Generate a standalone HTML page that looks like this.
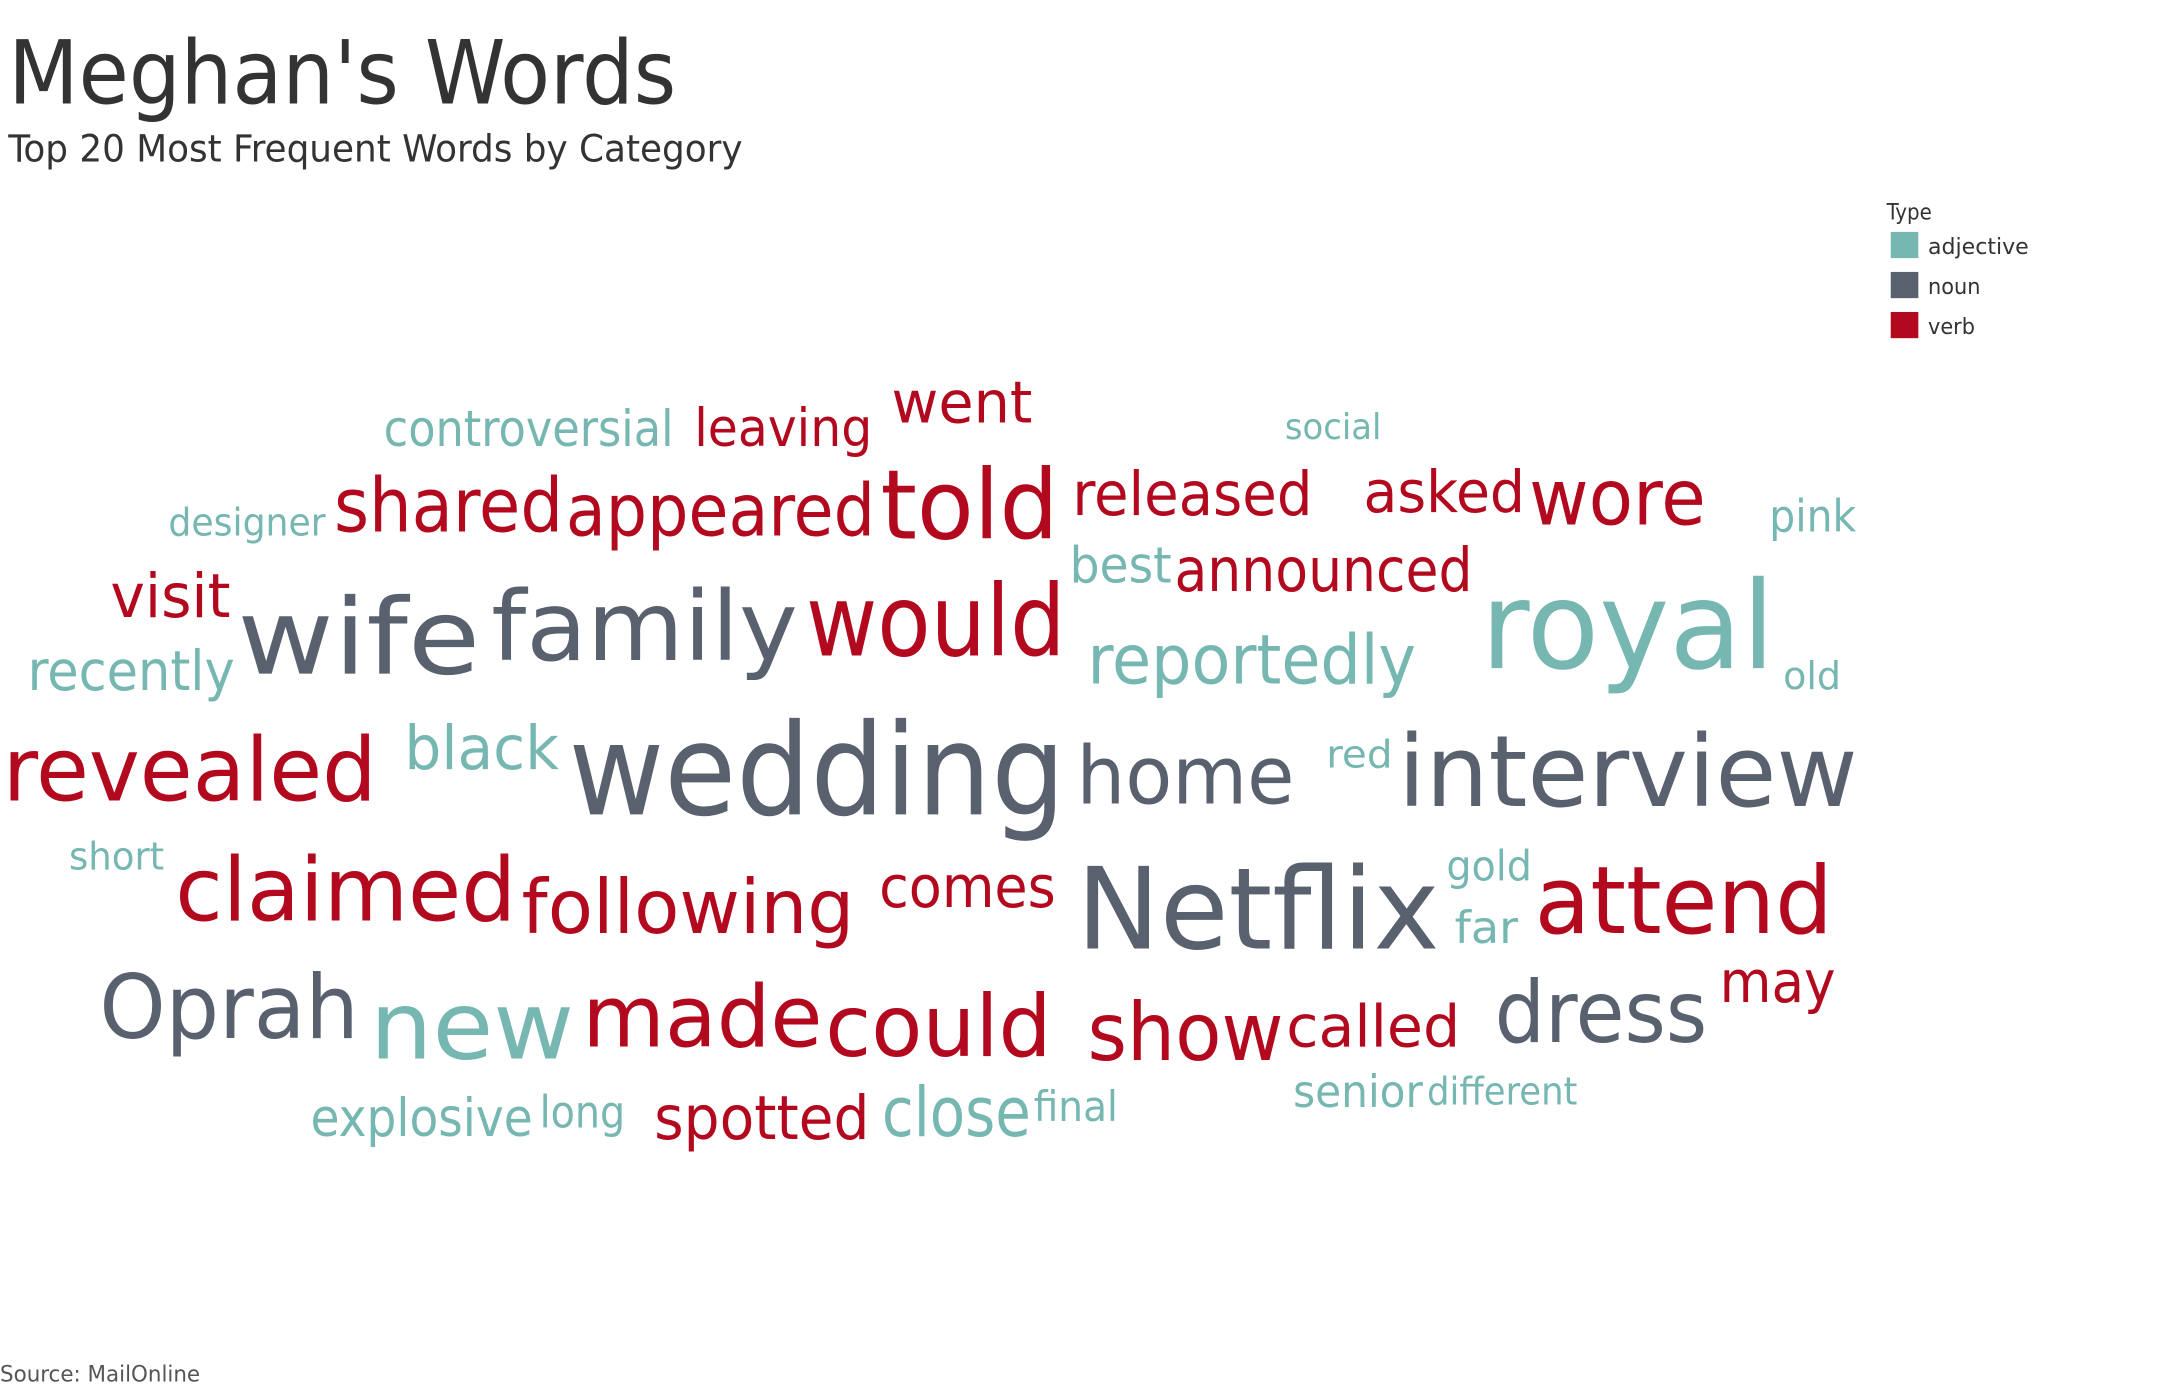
<!DOCTYPE html>
<html><head><meta charset="utf-8"><style>
html,body{margin:0;padding:0;background:#fff;}
svg{display:block;font-family:"DejaVu Sans Condensed","Liberation Sans",sans-serif;}
</style></head><body>
<svg id="chart" width="2164" height="1390" viewBox="0 0 1568 1007" preserveAspectRatio="none" xmlns="http://www.w3.org/2000/svg">
<text x="6" y="75" font-size="64" fill="#333" textLength="484" lengthAdjust="spacingAndGlyphs">Meghan's Words</text>
<text x="6" y="117" font-size="27" fill="#333" textLength="532" lengthAdjust="spacingAndGlyphs">Top 20 Most Frequent Words by Category</text>
<g>
<text x="1367" y="159" font-size="16" fill="#333">Type</text>
<rect x="1370" y="168" width="20" height="19" fill="#76b7b2"/>
<text x="1397" y="184" font-size="16" fill="#333" textLength="73" lengthAdjust="spacingAndGlyphs">adjective</text>
<rect x="1370" y="197" width="20" height="19" fill="#59606e"/>
<text x="1397" y="213" font-size="16" fill="#333" textLength="38" lengthAdjust="spacingAndGlyphs">noun</text>
<rect x="1370" y="226" width="20" height="19" fill="#b3091f"/>
<text x="1397" y="242" font-size="16" fill="#333" textLength="34" lengthAdjust="spacingAndGlyphs">verb</text>
</g>
<g id="words"></g>
<text x="0" y="1001" font-size="16" fill="#555" textLength="145" lengthAdjust="spacingAndGlyphs">Source: MailOnline</text>
</svg>
<script>
const words = ["controversial","leaving","went","social","designer","shared","appeared","told","released","asked","wore","pink","best","announced","visit","wife","family","would","reportedly","royal","old","recently","revealed","black","wedding","home","red","interview","short","claimed","following","comes","Netflix","gold","far","attend","Oprah","new","made","could","show","called","dress","may","explosive","long","spotted","close","final","senior","different"];
const types = ["adjective","verb","verb","adjective","adjective","verb","verb","verb","verb","verb","verb","adjective","adjective","verb","verb","noun","noun","verb","adjective","adjective","adjective","adjective","verb","adjective","noun","noun","adjective","noun","adjective","verb","verb","verb","noun","adjective","adjective","verb","noun","adjective","verb","verb","verb","verb","noun","verb","adjective","adjective","verb","adjective","adjective","adjective","adjective"];
const sizes = [36,38,42,26,28,54,52,70,44,42,56,32,36,44,44,76,70,72,50,88,28,40,64,44,92,58,28,72,28,64,54,42,82,30,32,68,64,68,62,62,58,42,62,42,38,32,44,50,30,32,28];
// layout (left x, baseline y, rendered width) from the cloud placement
const layout = [[278,323,210],[503,323,129],[646,306,102],[931,318,70],[122,388,114],[242,385,166],[410,388,224],[638,390,129],[777,373,174],[988,371,117],[1108,380,128],[1282,385,63],[775,422,74],[851,428,216],[80,447,87],[172,488,176],[356,478,222],[584,475,188],[788,495,238],[1073,484,213],[1292,499,42],[20,500,150],[2,580,271],[293,557,112],[412,590,360],[780,582,158],[961,556,48],[1013,584,333],[50,630,69],[127,667,247],[378,676,241],[637,657,128],[780,687,263],[1048,638,62],[1054,683,46],[1112,676,216],[72,752,188],[268,767,148],[422,758,174],[598,765,164],[788,768,142],[932,758,126],[1083,755,154],[1246,726,84],[225,823,161],[391,817,62],[474,825,156],[639,823,108],[749,812,61],[937,802,94],[1034,800,109]];
const colors = {adjective:"#76b7b2", noun:"#59606e", verb:"#b3091f"};
const g = document.getElementById('words');
const NS = "http://www.w3.org/2000/svg";
words.forEach((w,i)=>{
  const t = document.createElementNS(NS,'text');
  const L = layout[i];
  t.setAttribute('x', L[0]);
  t.setAttribute('y', L[1]);
  t.setAttribute('font-size', sizes[i]);
  t.setAttribute('fill', colors[types[i]]);
  t.setAttribute('textLength', L[2]);
  t.setAttribute('lengthAdjust', 'spacingAndGlyphs');
  t.textContent = w;
  
  
  g.appendChild(t);
});
</script>
</body></html>
